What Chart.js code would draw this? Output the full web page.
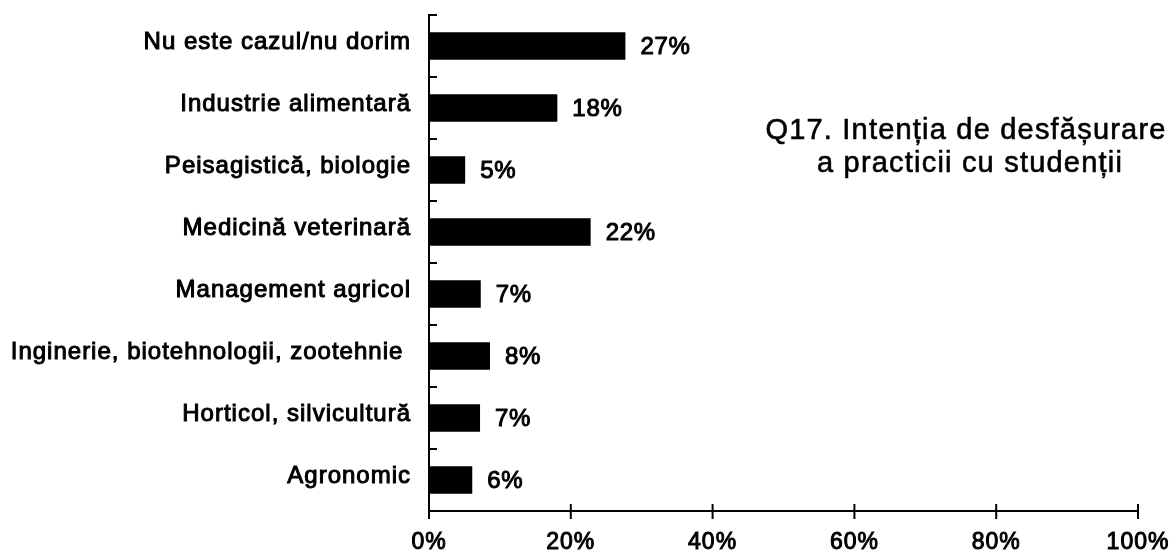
<!DOCTYPE html>
<html>
<head>
<meta charset="utf-8">
<script src="https://cdn.jsdelivr.net/npm/chart.js@4.4.1/dist/chart.umd.min.js"></script>
<style>
  html, body { margin: 0; padding: 0; background: #fff; }
</style>
</head>
<body>
<canvas id="chart" width="1173" height="556"></canvas>
<script>
const categories = [
  'Nu este cazul/nu dorim',
  'Industrie alimentară',
  'Peisagistică, biologie',
  'Medicină veterinară',
  'Management agricol',
  'Inginerie, biotehnologii, zootehnie ',
  'Horticol, silvicultură',
  'Agronomic'
];
const values = [27.7, 18.1, 5.1, 22.8, 7.3, 8.6, 7.2, 6.1];
const valueLabels = ['27%', '18%', '5%', '22%', '7%', '8%', '7%', '6%'];
const xTicks = [0, 20, 40, 60, 80, 100];
const titleLines = ['Q17. Intenția de desfășurare', 'a practicii cu studenții'];

const FONT = '"Liberation Sans", Arial, sans-serif';

// white page + a little letter spacing like the scanned original
const pagePlugin = {
  id: 'page',
  beforeDraw(chart) {
    const ctx = chart.ctx;
    ctx.save();
    ctx.fillStyle = '#fff';
    ctx.fillRect(0, 0, chart.width, chart.height);
    ctx.restore();
    ctx.letterSpacing = '1px';
  }
};

// tick marks: crossing on the x axis, inward on the y axis
const tickPlugin = {
  id: 'tickMarks',
  afterDraw(chart) {
    const ctx = chart.ctx;
    const x = chart.scales.x, y = chart.scales.y;
    const area = chart.chartArea;
    ctx.save();
    ctx.strokeStyle = '#000';
    ctx.lineWidth = 2;
    xTicks.forEach(v => {
      const px = x.getPixelForValue(v);
      ctx.beginPath();
      ctx.moveTo(px, area.bottom - 7);
      ctx.lineTo(px, area.bottom + 8);
      ctx.stroke();
    });
    const half = (y.getPixelForValue(1) - y.getPixelForValue(0)) / 2;
    for (let k = 0; k < categories.length; k++) {
      const py = y.getPixelForValue(k) - half;
      ctx.beginPath();
      ctx.moveTo(area.left, py);
      ctx.lineTo(area.left + 8, py);
      ctx.stroke();
    }
    ctx.restore();
  }
};

function inkText(ctx, text, x, y, strokeW) {
  ctx.lineWidth = strokeW;
  ctx.strokeStyle = '#000';
  ctx.strokeText(text, x, y);
  ctx.fillText(text, x, y);
}

const valuePlugin = {
  id: 'values',
  afterDatasetsDraw(chart) {
    const ctx = chart.ctx;
    const meta = chart.getDatasetMeta(0);
    ctx.save();
    ctx.fillStyle = '#000';
    ctx.font = '24px ' + FONT;
    ctx.letterSpacing = '0.7px';
    ctx.textAlign = 'left';
    ctx.textBaseline = 'middle';
    meta.data.forEach((bar, i) => {
      inkText(ctx, valueLabels[i], bar.x + 15, bar.y + 1, 1);
    });
    ctx.restore();
  }
};

const titlePlugin = {
  id: 'sideTitle',
  afterDraw(chart) {
    const ctx = chart.ctx;
    ctx.save();
    ctx.fillStyle = '#000';
    ctx.font = '29px ' + FONT;
    ctx.letterSpacing = '1.2px';
    ctx.textAlign = 'center';
    ctx.textBaseline = 'alphabetic';
    inkText(ctx, titleLines[0], 966, 139, 0.6);
    inkText(ctx, titleLines[1], 970, 172, 0.6);
    ctx.restore();
  }
};

new Chart(document.getElementById('chart'), {
  type: 'bar',
  data: {
    labels: categories,
    datasets: [{
      data: values,
      backgroundColor: '#000',
      borderWidth: 0,
      barPercentage: 0.44,
      categoryPercentage: 1
    }]
  },
  options: {
    indexAxis: 'y',
    responsive: false,
    animation: false,
    devicePixelRatio: 1,
    layout: { padding: { top: 15, right: 35, bottom: 0, left: 0 } },
    plugins: {
      legend: { display: false },
      tooltip: { enabled: false },
      title: { display: false }
    },
    scales: {
      x: {
        type: 'linear',
        min: 0,
        max: 100,
        afterBuildTicks: scale => { scale.ticks = xTicks.map(v => ({ value: v })); },
        afterFit: scale => {
          scale.height = 45;
          scale.paddingLeft = 0; scale.paddingRight = 0;
          scale.paddingTop = 0; scale.paddingBottom = 0;
        },
        grid: { display: false, drawTicks: false },
        border: { display: true, color: '#000', width: 2 },
        ticks: {
          color: '#000',
          padding: 20,
          maxRotation: 0,
          textStrokeColor: '#000',
          textStrokeWidth: 1,
          font: { family: FONT, size: 23, lineHeight: 1 },
          callback: v => v + '%'
        }
      },
      y: {
        afterFit: scale => {
          scale.width = 429;
          scale.paddingLeft = 0; scale.paddingRight = 0;
          scale.paddingTop = 0; scale.paddingBottom = 0;
        },
        grid: { display: false, drawTicks: false },
        border: { display: true, color: '#000', width: 2 },
        ticks: {
          color: '#000',
          padding: 18,
          labelOffset: -4,
          textStrokeColor: '#000',
          textStrokeWidth: 1,
          font: { family: FONT, size: 24 }
        }
      }
    }
  },
  plugins: [pagePlugin, valuePlugin, tickPlugin, titlePlugin]
});
</script>
</body>
</html>
